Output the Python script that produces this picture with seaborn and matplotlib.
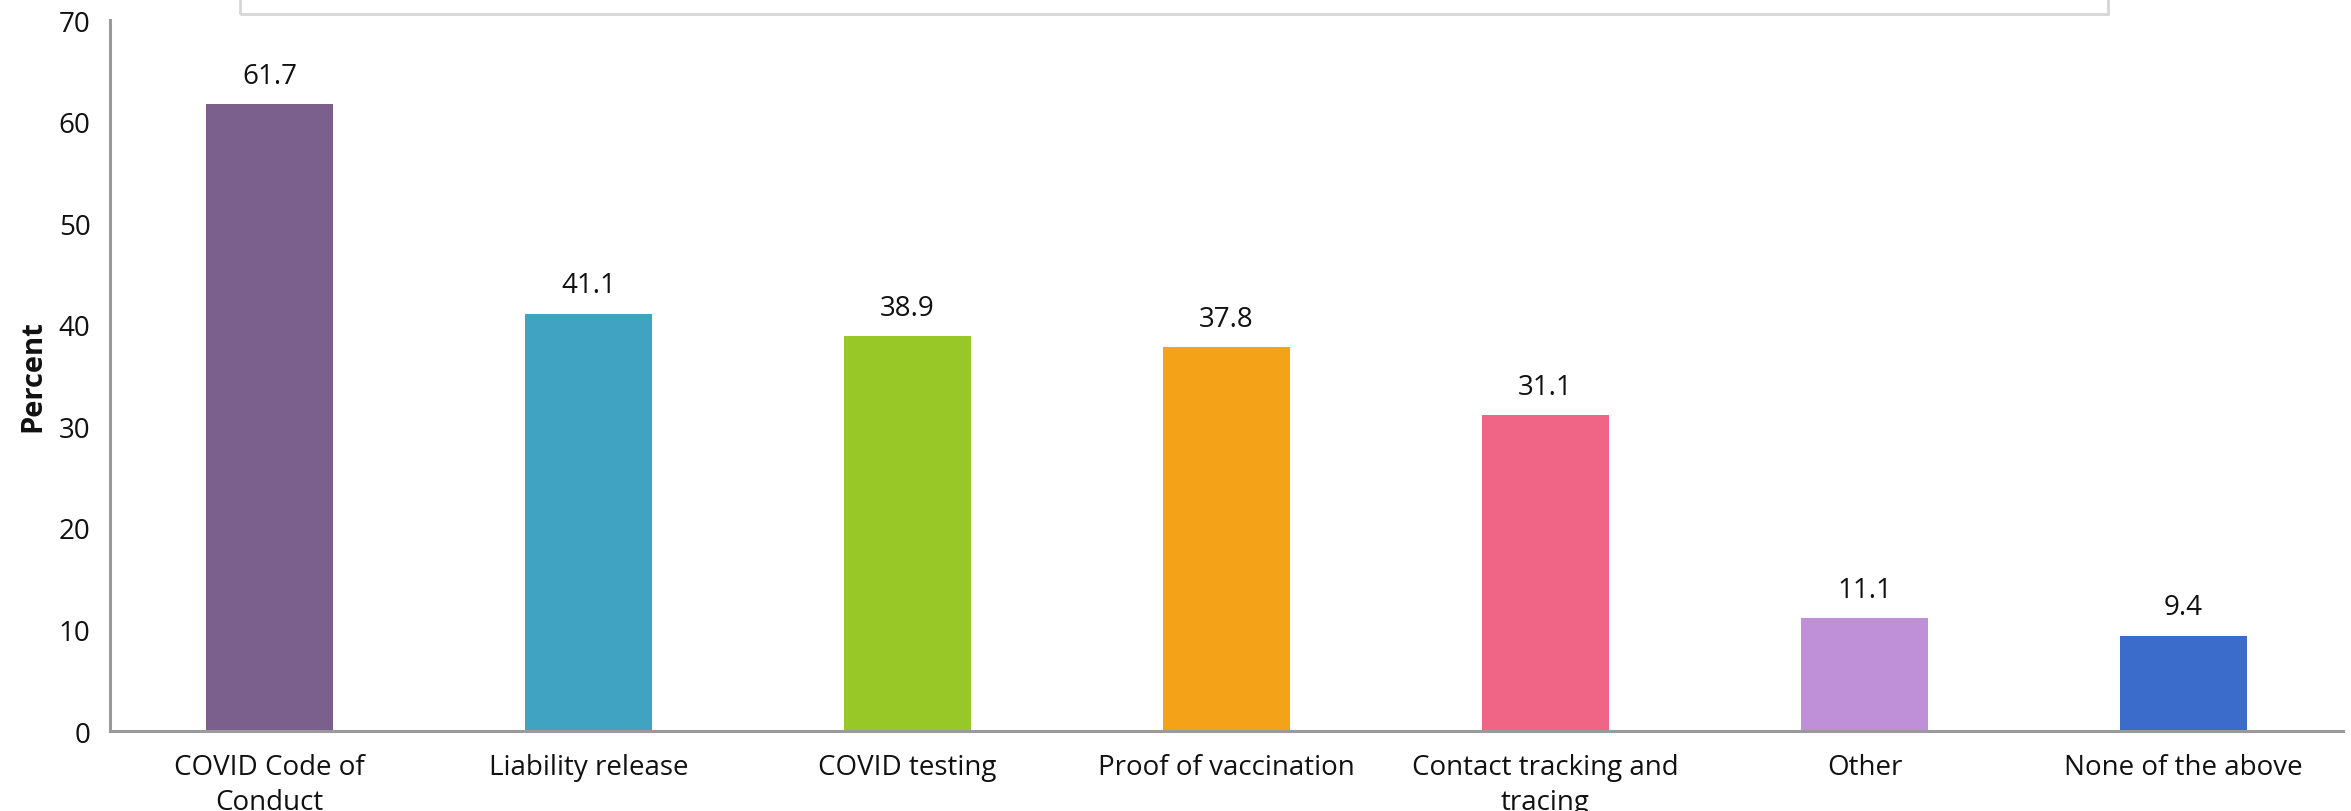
import matplotlib
matplotlib.use("Agg")
import matplotlib.pyplot as plt
import matplotlib.patches as mpatches
import seaborn as sns
import pandas as pd
import numpy as np

# data
categories = ["COVID Code of\nConduct", "Liability release", "COVID testing",
              "Proof of vaccination", "Contact tracking and\ntracing", "Other",
              "None of the above"]
percent = [61.7, 41.1, 38.9, 37.8, 31.1, 11.1, 9.4]
colors = ["#7B5F8C", "#40A3C2", "#98C828", "#F4A319", "#F06586", "#BF8FD8", "#3C6CCB"]

df = pd.DataFrame({"category": categories, "percent": percent})

sns.set_style("white")
plt.rcParams['font.family'] = ['Open Sans', 'DejaVu Sans']
plt.rcParams['text.color'] = "#111111"
plt.rcParams['xtick.labelcolor'] = "#111111"
plt.rcParams['ytick.labelcolor'] = "#111111"

fig = plt.figure(figsize=(23.51, 8.12), dpi=100)
ax = fig.add_axes([0.0468, 0.0985, 0.9498, 0.8756])

sns.barplot(data=df, x="category", y="percent", hue="category", palette=colors,
            width=0.4, saturation=1, legend=False, linewidth=0, ax=ax)

# value labels
for i, v in enumerate(percent):
    ax.text(i, v + 1.4, f"{v:.1f}", ha="center", va="bottom", fontsize=20)

ax.set_ylim(0, 70)
ax.set_xlim(-0.5, len(categories) - 0.5)
ax.set_yticks(range(0, 71, 10))
ax.set_xlabel("")
ax.set_ylabel("Percent", fontsize=21, fontweight="bold", labelpad=8, color="#111111")

# ticks at category boundaries
ax.set_xticks(np.arange(-0.5, len(categories), 1.0), minor=True)
ax.set_xticklabels(categories, linespacing=1.3)
ax.tick_params(axis="x", which="major", length=0, labelsize=20, pad=16)
ax.tick_params(axis="x", which="minor", direction="in", length=9, width=1.8, color="#9A9A9A")
ax.tick_params(axis="y", direction="in", length=8, width=1.8, color="#9A9A9A", labelsize=20, pad=14)

for s in ["top", "right"]:
    ax.spines[s].set_visible(False)
for s in ["left", "bottom"]:
    ax.spines[s].set_color("#9A9A9A")
    ax.spines[s].set_linewidth(2.2)

# cut-off legend box at the top
box = mpatches.Rectangle((240 / 2351, 1 - 15 / 812), (2108 - 240) / 2351, 0.1,
                         transform=fig.transFigure, fill=False,
                         edgecolor="#D6D6D6", linewidth=2, clip_on=False)
fig.patches.append(box)

fig.savefig("out.png", dpi=100)
